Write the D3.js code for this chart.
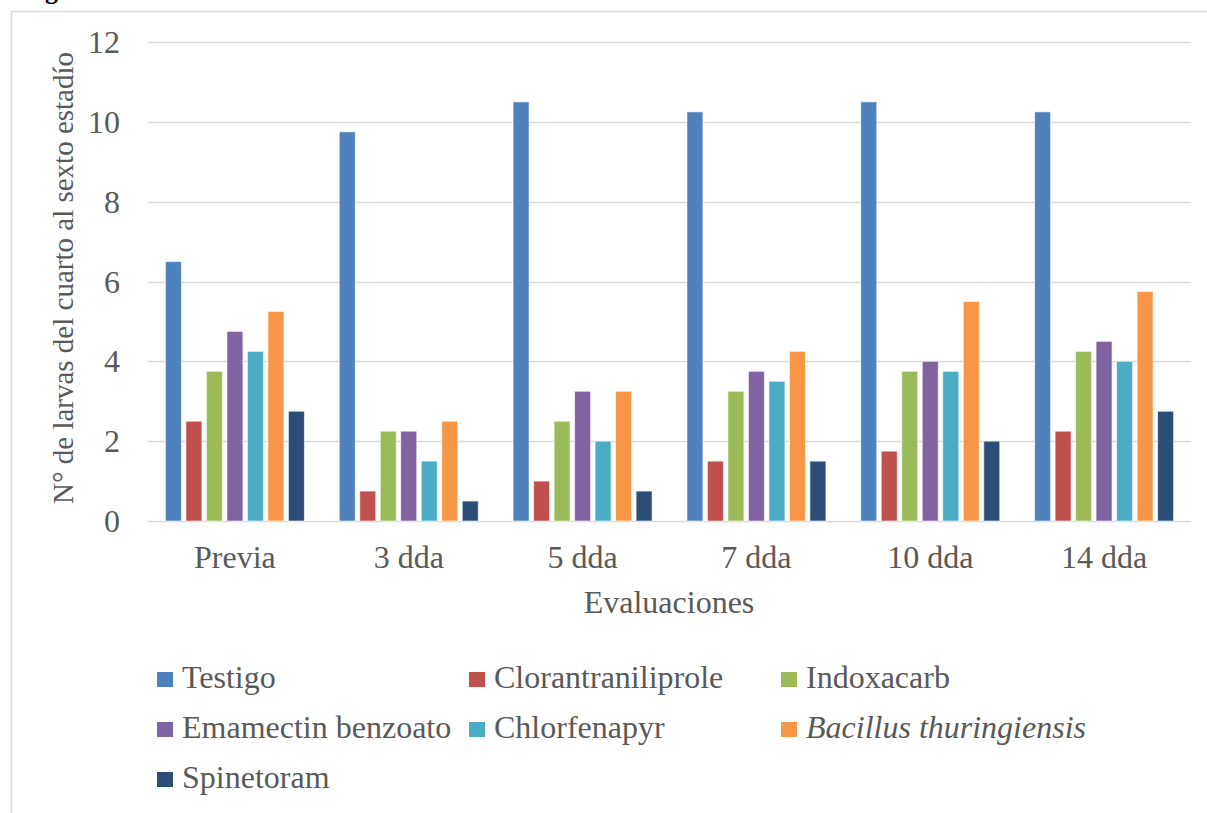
<!DOCTYPE html>
<html><head><meta charset="utf-8">
<script src="https://cdn.jsdelivr.net/npm/d3@7"></script>
<style>body{margin:0;background:#fff;}svg{display:block;}</style>
</head><body>
<svg id="c" width="1207" height="813"></svg>
<script>
const categories = ["Previa","3 dda","5 dda","7 dda","10 dda","14 dda"];
const seriesNames = ["Testigo","Clorantraniliprole","Indoxacarb","Emamectin benzoato","Chlorfenapyr","Bacillus thuringiensis","Spinetoram"];
const testigo = [6.5, 9.75, 10.5, 10.25, 10.5, 10.25];
const clorantraniliprole = [2.5, 0.75, 1.0, 1.5, 1.75, 2.25];
const indoxacarb = [3.75, 2.25, 2.5, 3.25, 3.75, 4.25];
const emamectin = [4.75, 2.25, 3.25, 3.75, 4.0, 4.5];
const chlorfenapyr = [4.25, 1.5, 2.0, 3.5, 3.75, 4.0];
const bacillus = [5.25, 2.5, 3.25, 4.25, 5.5, 5.75];
const spinetoram = [2.75, 0.5, 0.75, 1.5, 2.0, 2.75];
const yTicks = [0,2,4,6,8,10,12];
const colors = ["#4F81BD","#C0504D","#9BBB59","#8064A2","#4BACC6","#F79646","#2C4D75"];
const italicSeries = ["Bacillus thuringiensis"];

(function(){
const seriesValues = [testigo, clorantraniliprole, indoxacarb, emamectin, chlorfenapyr, bacillus, spinetoram];
const svg = d3.select("#c");
const font = "'Liberation Serif','Times New Roman',serif";
const textCol = "#595959";

// cropped caption at top (cut off by the page edge, as in the reference)
svg.append("text").attr("x", 22).attr("y", -1)
  .attr("font-family", font).attr("font-weight", "bold").attr("font-size", 26).attr("fill", "#000")
  .text("Figura 4. Número de larvas del cuarto al sexto estadío");

// chart frame
svg.append("path").attr("d", "M11.5,813 V11.5 H1207").attr("fill", "none").attr("stroke", "#d9d9d9").attr("stroke-width", 1.5);

const pL = 148, pR = 1191, pT = 42, pB = 521;
const y = d3.scaleLinear().domain([0, 12]).range([pB, pT]);
const xc = d3.scaleBand().domain(categories).range([pL, pR]);

// gridlines
svg.append("g").selectAll("line").data(yTicks).join("line")
  .attr("x1", pL).attr("x2", pR)
  .attr("y1", d => Math.round(y(d)) + 0.5).attr("y2", d => Math.round(y(d)) + 0.5)
  .attr("stroke", "#d9d9d9").attr("stroke-width", 1.5);

// y tick labels
svg.append("g").selectAll("text").data(yTicks).join("text")
  .attr("x", 120).attr("y", d => y(d) + 11)
  .attr("text-anchor", "end").attr("font-family", font).attr("font-size", 32).attr("fill", textCol)
  .text(d => d);

// bars
const data = categories.map((c, i) => ({cat: c, vals: seriesNames.map((s, j) => ({s, j, v: seriesValues[j][i]}))}));
const barW = 16, step = 20.5;
svg.append("g").selectAll("g").data(data).join("g")
  .attr("transform", d => `translate(${xc(d.cat) + xc.bandwidth()/2 - (step*6 + barW)/2},0)`)
  .selectAll("rect").data(d => d.vals).join("rect")
  .attr("x", d => d.j * step).attr("width", barW)
  .attr("y", d => y(d.v)).attr("height", d => pB - y(d.v))
  .attr("fill", d => colors[d.j]).attr("stroke", "#fff").attr("stroke-opacity", 0.6).attr("stroke-width", 1);

// x labels
svg.append("g").selectAll("text").data(categories).join("text")
  .attr("x", d => xc(d) + xc.bandwidth()/2).attr("y", 568)
  .attr("text-anchor", "middle").attr("font-family", font).attr("font-size", 32).attr("fill", textCol)
  .text(d => d);

// axis titles
svg.append("text").attr("x", 669).attr("y", 613).attr("text-anchor", "middle")
  .attr("font-family", font).attr("font-size", 32).attr("fill", textCol).text("Evaluaciones");
svg.append("text").attr("transform", "translate(73,278) rotate(-90)").attr("text-anchor", "middle")
  .attr("font-family", font).attr("font-size", 29).attr("fill", textCol)
  .text("N° de larvas del cuarto al sexto estadío");

// legend
const lg = svg.append("g").selectAll("g").data(seriesNames).join("g")
  .attr("transform", (d, i) => `translate(${157 + (i % 3) * 312},${688 + Math.floor(i / 3) * 50})`);
lg.append("rect").attr("x", 0).attr("y", -16).attr("width", 16).attr("height", 15).attr("fill", (d, i) => colors[i]);
lg.append("text").attr("x", 25).attr("y", 0)
  .attr("font-family", font).attr("font-size", 32).attr("fill", textCol)
  .attr("font-style", d => italicSeries.includes(d) ? "italic" : "normal")
  .text(d => d);
})();
</script>
</body></html>
